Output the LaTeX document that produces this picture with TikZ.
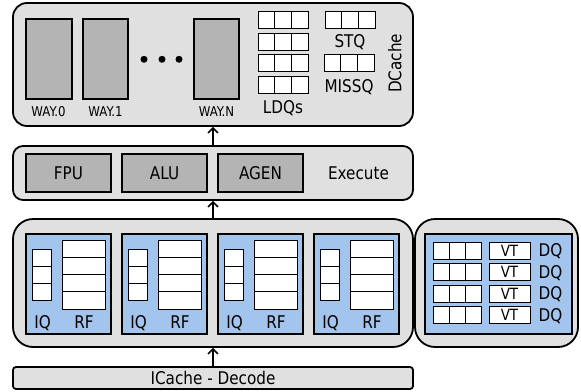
\documentclass[tikz,border=0pt]{standalone}
\usepackage{fontspec}
\setmainfont{DejaVu Sans}[FakeStretch=0.87]
\usetikzlibrary{arrows.meta,positioning}
\definecolor{boxgray}{RGB}{224,224,224}
\definecolor{unitgray}{RGB}{180,180,180}
\definecolor{sliceblue}{RGB}{163,196,236}

\tikzset{
  outerbox/.style={draw, fill=boxgray, line width=1.8pt, inner sep=0pt, rounded corners=#1},
  unitbox/.style={draw, fill=unitgray, line width=1.3pt, inner sep=0pt},
  slicebox/.style={draw, fill=sliceblue, line width=1.3pt, inner sep=0pt},
  cell/.style={draw, fill=white, line width=1pt},
  vtbox/.style={draw, fill=white, line width=1pt, minimum width=41pt, minimum height=17pt,
    inner sep=0pt, font=\fontsize{15.5}{15.5}\selectfont, text height=11.3pt, text depth=0pt},
  lbl/.style={inner sep=0pt, font=\fontsize{17.5}{17.5}\selectfont, text height=12.75pt, text depth=0pt},
  small/.style={inner sep=0pt, font=\fontsize{13.5}{13.5}\selectfont, text height=9.8pt, text depth=0pt},
  conn/.style={line width=1.5pt, -{Straight Barb[length=5pt,width=10pt]}}
}

\begin{document}
\begin{tikzpicture}[x=1pt,y=-1pt]
    \useasboundingbox (0,0) rectangle (581,391);

    % Outer stages
    \node[outerbox=14pt, minimum width=400pt, minimum height=123pt] (dcache) at (213,64.5) {};
    \node[outerbox=10pt, minimum width=400pt, minimum height=54pt] (exec) at (213,173) {};
    \node[outerbox=20pt, minimum width=400pt, minimum height=128pt] (cluster) at (213,283) {};
    \node[outerbox=20pt, minimum width=163pt, minimum height=128pt] (dqstage) at (496.5,283) {};
    \node[outerbox=3pt, minimum width=400pt, minimum height=22pt] (icache) at (213,378) {};

    % DCache ways
    \node[unitbox, minimum width=46pt, minimum height=80pt] (way0) at (49,59) {};
    \node[unitbox, minimum width=45pt, minimum height=80pt] (way1) at (105.5,59) {};
    \node[unitbox, minimum width=45pt, minimum height=80pt] (wayn) at (216.5,59) {};
    \foreach \x in {144,162,179}
        \fill[black] (\x,59.3) circle (3.5pt);
    \node[small] (way0lbl) at (48.5,111.7) {WAY.0};
    \node[small] (way1lbl) at (105.5,111.7) {WAY.1};
    \node[small] (waynlbl) at (216.5,111.7) {WAY.N};

    % Queues
    \foreach \r in {0,...,3}
        \foreach \c in {0,1,2}
            \draw[cell] ({258+\c*16.67},{11.5+\r*21.5}) rectangle ++(16.67,17);
    \foreach \c in {0,1,2} {
        \draw[cell] ({325+\c*16.67},11.5) rectangle ++(16.67,17);
        \draw[cell] ({324+\c*16.67},54.5) rectangle ++(16.67,17);
    }
    \node[lbl] (ldqlbl) at (283,107.5) {LDQs};
    \node[lbl] (stqlbl) at (350,41.5) {STQ};
    \node[lbl] (missqlbl) at (349,86.5) {MISSQ};
    \node[lbl, rotate=90] (dcachelbl) at (395,63.3) {DCache};

    % Execute
    \node[unitbox, minimum width=85pt, minimum height=38pt] (fpu) at (68.5,173) {};
    \node[unitbox, minimum width=85pt, minimum height=38pt] (alu) at (164.5,173) {};
    \node[unitbox, minimum width=85pt, minimum height=38pt] (agen) at (260.5,173) {};
    \node[lbl] at (fpu) {FPU};
    \node[lbl] at (alu) {ALU};
    \node[lbl] at (agen) {AGEN};
    \node[lbl] (execlbl) at (358.5,172.7) {Execute};

    % Issue slices
    \foreach \i in {0,...,3} {
        \node[slicebox, minimum width=85pt, minimum height=100pt] (slice\i) at ({68.5+96*\i},284) {};
        \foreach \r in {0,1,2}
            \draw[cell] ({32+96*\i},{249+17*\r}) rectangle ++(19,17);
        \foreach \r in {0,...,3}
            \draw[cell] ({62+96*\i},{240+17.25*\r}) rectangle ++(43,17.25);
        \node[lbl] (iq\i) at ({42.5+96*\i},322.5) {IQ};
        \node[lbl] (rf\i) at ({84+96*\i},322.5) {RF};
    }

    % Decoupled queues
    \node[slicebox, minimum width=147pt, minimum height=100pt] (dqslice) at (498.5,284) {};
    \foreach \r in {0,...,3} {
        \foreach \c in {0,1,2}
            \draw[cell] ({433+\c*16.33},{242+21.5*\r}) rectangle ++(16.33,17);
        \node[vtbox] (vt\r) at (509.5,{250.5+21.5*\r}) {VT};
        \node[lbl] (dq\r) at (550.5,{250.5+21.5*\r}) {DQ};
    }

    \node[lbl] (icachelbl) at (213,378) {ICache - Decode};

    % Connectors
    \draw[conn] (icache.north) -- (cluster.south);
    \draw[conn] (cluster.north) -- (exec.south);
    \draw[conn] (exec.north) -- (dcache.south);
\end{tikzpicture}
\end{document}
